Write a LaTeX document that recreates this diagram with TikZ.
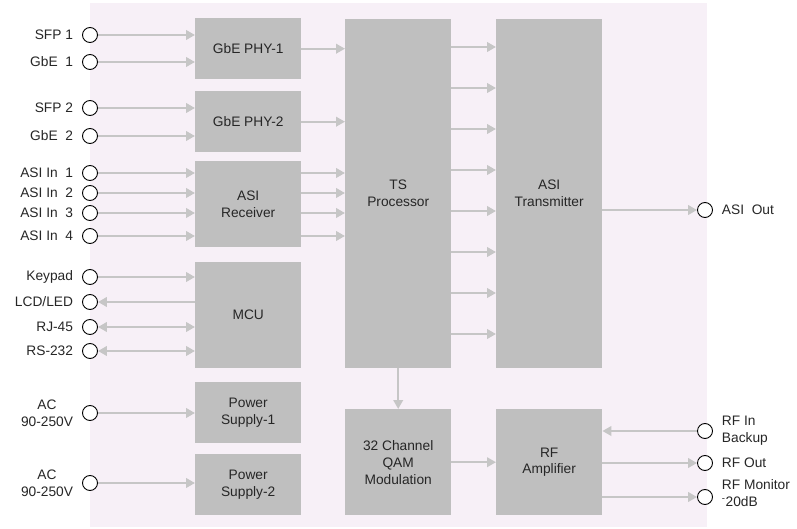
\documentclass[tikz,border=0pt]{standalone}
\usepackage{fontspec}
\setmainfont{Liberation Sans}
\usetikzlibrary{positioning,arrows.meta}
\definecolor{panel}{HTML}{F7F0F7}
\definecolor{blockgray}{HTML}{BFBFBF}
\definecolor{wiregray}{HTML}{C6C6C6}
\definecolor{txt}{HTML}{262626}

\begin{document}
\begin{tikzpicture}[x=1bp, y=-1bp,
  every node/.style={font=\fontsize{13.8}{17}\selectfont, text=txt},
  block/.style={fill=blockgray, anchor=north west, minimum width=106bp, align=center, inner sep=0pt},
  port/.style={draw=black, line width=0.9bp, circle, fill=white, minimum size=15bp, inner sep=0pt},
  lbl/.style={label distance=5.5bp},
  arr/.style={draw=wiregray, line width=2.2bp, -{Triangle[length=9bp,width=9.5bp]}},
  biarr/.style={arr, {Triangle[length=9bp,width=9.5bp]}-{Triangle[length=9bp,width=9.5bp]}}]
\useasboundingbox (0,0) rectangle (797,529);
\fill[panel] (90,3) rectangle (707,527);
% processing blocks
\node[block, minimum height=61bp] (phya) at (195,18) {GbE PHY-1};
\node[block, minimum height=61bp] (phyb) at (195,91) {GbE PHY-2};
\node[block, minimum height=86bp] (asirx) at (195,161) {ASI\\Receiver};
\node[block, minimum height=106bp] (mcu) at (195,262) {MCU};
\node[block, minimum height=61bp] (psa) at (195,382) {Power\\Supply-1};
\node[block, minimum height=61bp] (psb) at (195,454) {Power\\Supply-2};
\node[block, minimum height=349bp] (ts) at (345,19) {TS\\Processor};
\node[block, minimum height=349bp] (asitx) at (496,19) {ASI\\Transmitter};
\node[block, minimum height=106bp] (qam) at (345,409) {32 Channel\\QAM\\Modulation};
\node[block, minimum height=106bp] (rfamp) at (496,409) {RF\\Amplifier};
% input ports
\node[port, label={[lbl]left:SFP 1}] (sfpa) at (90,35) {};
\node[port, label={[lbl]left:GbE\ \ 1}] (gbea) at (90,62) {};
\node[port, label={[lbl]left:SFP 2}] (sfpb) at (90,108) {};
\node[port, label={[lbl]left:GbE\ \ 2}] (gbeb) at (90,136) {};
\node[port, label={[lbl]left:ASI In\ \ 1}] (asiina) at (90,173) {};
\node[port, label={[lbl]left:ASI In\ \ 2}] (asiinb) at (90,193) {};
\node[port, label={[lbl]left:ASI In\ \ 3}] (asiinc) at (90,213) {};
\node[port, label={[lbl]left:ASI In\ \ 4}] (asiind) at (90,236) {};
\node[port, label={[lbl]left:Keypad}] (keypad) at (90,277) {};
\node[port, label={[lbl]left:LCD/LED}] (lcd) at (90,302) {};
\node[port, label={[lbl]left:RJ-45}] (rj) at (90,327) {};
\node[port, label={[lbl]left:RS-232}] (rs) at (90,351) {};
\node[port, label={[lbl, align=center]left:AC\\90-250V}] (aca) at (90,413) {};
\node[port, label={[lbl, align=center]left:AC\\90-250V}] (acb) at (90,483) {};
% output ports
\node[port, label={[lbl]right:ASI\ \ Out}] (asiout) at (705,210) {};
\node[port, label={[lbl, align=left]right:RF In\\Backup}] (rfin) at (705,431) {};
\node[port, label={[lbl]right:RF Out}] (rfout) at (705,463) {};
\node[port, label={[lbl, align=left, yshift=4bp]right:RF Monitor\\\textsuperscript{-}20dB}] (rfmon) at (705,497) {};
% connectors
\foreach \p/\b in {sfpa/phya, gbea/phya, sfpb/phyb, gbeb/phyb, asiina/asirx, asiinb/asirx, asiinc/asirx, asiind/asirx, keypad/mcu, aca/psa, acb/psb}
  \draw[arr] (\p.east) -- (\p.east -| \b.west);
\draw[arr] (mcu.west |- lcd) -- (lcd.east);
\draw[biarr] (rj.east) -- (rj.east -| mcu.west); \draw[biarr] (rs.east) -- (rs.east -| mcu.west);
\draw[arr] (phya.east) -- (phya.east -| ts.west); \draw[arr] (phyb.east) -- (phyb.east -| ts.west);
\foreach \p in {asiina, asiinb, asiinc, asiind}
  \draw[arr] (asirx.east |- \p) -- (ts.west |- \p);
\foreach \i in {0,...,7}
  \draw[arr] ([yshift=-28bp-41*\i bp]ts.north east) -- ([yshift=-28bp-41*\i bp]ts.north east -| asitx.west);
\draw[arr] (asitx.east |- asiout) -- (asiout.west);
\draw[arr] (ts.south) -- (qam.north);
\draw[arr] (qam.east) -- (rfamp.west |- qam.east);
\draw[arr] (rfin.west) -- (rfin.west -| rfamp.east);
\draw[arr] (rfamp.east |- rfout) -- (rfout.west); \draw[arr] (rfamp.east |- rfmon) -- (rfmon.west);
\end{tikzpicture}
\end{document}
